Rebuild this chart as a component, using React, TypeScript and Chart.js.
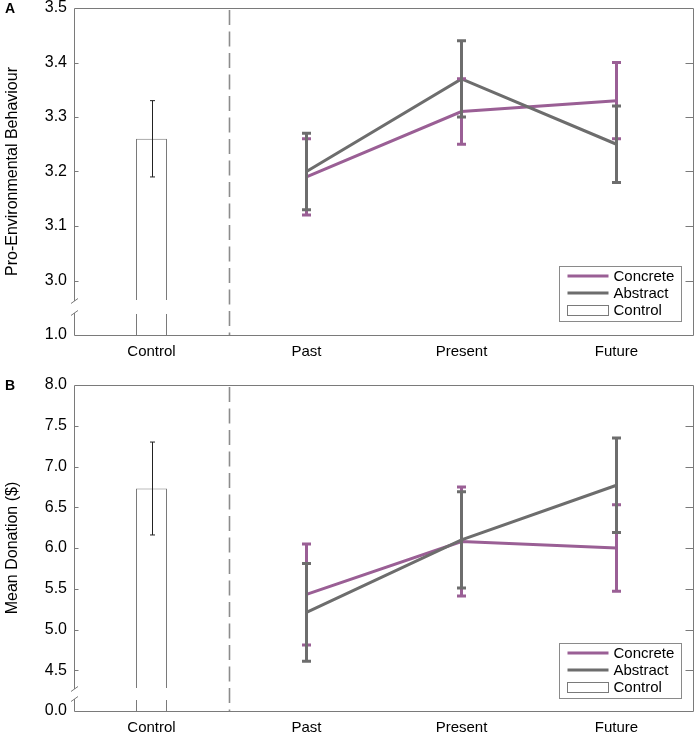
import React, { useEffect, useRef } from 'react';
import { Chart, registerables } from 'chart.js';

Chart.register(...registerables);

// ---------- data ----------
const categories = ['Control', 'Past', 'Present', 'Future'];
const legendLabels = ['Concrete', 'Abstract', 'Control'];

// Panel A: Pro-Environmental Behaviour
const aControlMean = [3.26];
const aControlErr = [0.07];
const aConcreteMean = [3.19, 3.31, 3.33];
const aConcreteErr = [0.07, 0.06, 0.07];
const aAbstractMean = [3.2, 3.37, 3.25];
const aAbstractErr = [0.07, 0.07, 0.07];
const aTickValues = [2.9, 3.0, 3.1, 3.2, 3.3, 3.4, 3.5];
const aTickLabels = ['1.0', '3.0', '3.1', '3.2', '3.3', '3.4', '3.5'];
const aBreak = [2.9404, 2.9624];

// Panel B: Mean Donation ($)
const bControlMean = [6.73];
const bControlErr = [0.57];
const bConcreteMean = [5.43, 6.08, 6.0];
const bConcreteErr = [0.62, 0.67, 0.53];
const bAbstractMean = [5.21, 6.1, 6.77];
const bAbstractErr = [0.6, 0.59, 0.58];
const bTickValues = [4.0, 4.5, 5.0, 5.5, 6.0, 6.5, 7.0, 7.5, 8.0];
const bTickLabels = ['0.0', '4.5', '5.0', '5.5', '6.0', '6.5', '7.0', '7.5', '8.0'];
const bBreak = [4.147, 4.27];

// ---------- styles ----------
const PURPLE = '#9a5f95';
const GRAY = '#6d6d6d';
const FRAME = '#7a7a7a';
const FONT = '"Liberation Sans", Arial, Helvetica, sans-serif';
const W = 697;
const H = 368;

type PanelCfg = {
  letter: string;
  title: string;
  padTop: number;
  xHeight: number;
  tickValues: number[];
  tickLabels: string[];
  brk: number[];
  controlMean: number[];
  controlErr: number[];
  concreteMean: number[];
  concreteErr: number[];
  abstractMean: number[];
  abstractErr: number[];
};

function drawErr(ctx: CanvasRenderingContext2D, px: number, yTop: number, yBot: number, color: string, lw: number, cap: number) {
  ctx.strokeStyle = color;
  ctx.lineWidth = lw;
  ctx.beginPath();
  ctx.moveTo(px, yTop);
  ctx.lineTo(px, yBot);
  ctx.moveTo(px - cap, yTop);
  ctx.lineTo(px + cap, yTop);
  ctx.moveTo(px - cap, yBot);
  ctx.lineTo(px + cap, yBot);
  ctx.stroke();
}

function makeChart(canvas: HTMLCanvasElement, cfg: PanelCfg) {
  const yMin = cfg.tickValues[0];
  const yMax = cfg.tickValues[cfg.tickValues.length - 1];

  const panelPlugin = {
    id: 'panel' + cfg.letter,
    beforeDatasetsDraw(chart: any) {
      const { ctx, chartArea: ca, scales } = chart;
      const x = scales.x;
      const xd = Math.round((x.getPixelForValue(0) + x.getPixelForValue(1)) / 2) + 0.5;
      ctx.save();
      ctx.strokeStyle = '#8c8c8c';
      ctx.lineWidth = 1.6;
      ctx.setLineDash([15, 6.5]);
      ctx.beginPath();
      ctx.moveTo(xd, ca.top + 2);
      ctx.lineTo(xd, ca.bottom);
      ctx.stroke();
      ctx.restore();
    },
    afterDatasetsDraw(chart: any) {
      const { ctx, chartArea: ca, scales } = chart;
      const x = scales.x;
      const y = scales.y;
      ctx.save();
      ctx.lineCap = 'butt';
      // control error bar
      const cx = x.getPixelForValue(0);
      drawErr(ctx, Math.round(cx) + 0.5,
        y.getPixelForValue(cfg.controlMean[0] + cfg.controlErr[0]),
        y.getPixelForValue(cfg.controlMean[0] - cfg.controlErr[0]), '#222', 1, 2.5);
      // concrete then abstract
      for (let i = 0; i < cfg.concreteMean.length; i++) {
        const px = x.getPixelForValue(i + 1);
        drawErr(ctx, px, y.getPixelForValue(cfg.concreteMean[i] + cfg.concreteErr[i]),
          y.getPixelForValue(cfg.concreteMean[i] - cfg.concreteErr[i]), PURPLE, 3, 4.5);
      }
      for (let i = 0; i < cfg.abstractMean.length; i++) {
        const px = x.getPixelForValue(i + 1);
        drawErr(ctx, px, y.getPixelForValue(cfg.abstractMean[i] + cfg.abstractErr[i]),
          y.getPixelForValue(cfg.abstractMean[i] - cfg.abstractErr[i]), GRAY, 3, 4.5);
      }

      // frame
      const L = Math.round(ca.left) + 0.5;
      const R = Math.round(ca.right) - 0.5;
      const T = Math.round(ca.top) + 0.5;
      const B = Math.round(ca.bottom) + 0.5;
      const gTop = y.getPixelForValue(cfg.brk[1]);
      const gBot = y.getPixelForValue(cfg.brk[0]);
      ctx.strokeStyle = FRAME;
      ctx.lineWidth = 1;
      ctx.beginPath();
      ctx.moveTo(L, T);
      ctx.lineTo(R, T);
      ctx.lineTo(R, B);
      ctx.lineTo(L, B);
      ctx.lineTo(L, gBot);
      ctx.moveTo(L, gTop);
      ctx.lineTo(L, T);
      // inner ticks
      for (let k = 1; k < cfg.tickValues.length - 1; k++) {
        const ty = Math.round(y.getPixelForValue(cfg.tickValues[k])) + 0.5;
        ctx.moveTo(L, ty);
        ctx.lineTo(L + 4, ty);
        ctx.moveTo(R, ty);
        ctx.lineTo(R - 8, ty);
      }
      ctx.stroke();
      // break slashes
      ctx.beginPath();
      ctx.moveTo(L - 3.5, gTop + 2.5);
      ctx.lineTo(L + 3.5, gTop - 2.5);
      ctx.moveTo(L - 3.5, gBot + 2.5);
      ctx.lineTo(L + 3.5, gBot - 2.5);
      ctx.stroke();
      // gap in control bar
      const meta = chart.getDatasetMeta(0);
      const bar = meta.data[0];
      if (bar) {
        const half = bar.width / 2;
        ctx.fillStyle = '#ffffff';
        ctx.fillRect(bar.x - half - 2, gTop - 1, half * 2 + 4, gBot - gTop + 2);
      }

      // legend
      const bx = Math.round(ca.right) - 135 + 0.5;
      const by = Math.round(ca.top) + 258 + 0.5;
      const bw = 122;
      const bh = 55;
      ctx.fillStyle = '#ffffff';
      ctx.fillRect(bx, by, bw, bh);
      ctx.strokeStyle = '#8a8a8a';
      ctx.lineWidth = 1;
      ctx.strokeRect(bx, by, bw, bh);
      const rows = [9.5, 26.5, 43.5];
      const colors = [PURPLE, GRAY];
      for (let r = 0; r < 2; r++) {
        ctx.strokeStyle = colors[r];
        ctx.lineWidth = 3;
        ctx.beginPath();
        ctx.moveTo(bx + 8, by + rows[r]);
        ctx.lineTo(bx + 49, by + rows[r]);
        ctx.stroke();
      }
      ctx.strokeStyle = FRAME;
      ctx.lineWidth = 1;
      ctx.strokeRect(bx + 8, Math.round(by + rows[2] - 5) + 0.5, 41, 10);
      ctx.fillStyle = '#000';
      ctx.font = '15px ' + FONT;
      ctx.textAlign = 'left';
      ctx.textBaseline = 'middle';
      for (let r = 0; r < 3; r++) {
        ctx.fillText(legendLabels[r], bx + 54, by + rows[r] + 1);
      }

      // panel letter
      ctx.font = 'bold 14px ' + FONT;
      ctx.fillText(cfg.letter, 5, ca.top + 1.5);
      ctx.restore();
    },
  };

  return new Chart(canvas, {
    type: 'bar',
    data: {
      labels: categories,
      datasets: [
        {
          type: 'bar',
          label: 'Control',
          data: [cfg.controlMean[0], null, null, null],
          base: yMin,
          backgroundColor: '#ffffff',
          borderColor: FRAME,
          borderWidth: 1,
          barPercentage: 0.2,
          categoryPercentage: 1,
          grouped: false,
          order: 3,
        } as any,
        {
          type: 'line',
          label: 'Concrete',
          data: [null, ...cfg.concreteMean],
          borderColor: PURPLE,
          borderWidth: 3,
          pointRadius: 0,
          tension: 0,
          order: 2,
        } as any,
        {
          type: 'line',
          label: 'Abstract',
          data: [null, ...cfg.abstractMean],
          borderColor: GRAY,
          borderWidth: 3,
          pointRadius: 0,
          tension: 0,
          order: 1,
        } as any,
      ],
    },
    options: {
      responsive: false,
      animation: false,
      layout: { padding: { top: cfg.padTop, right: 3, left: 0, bottom: 0 } },
      plugins: { legend: { display: false }, tooltip: { enabled: false } },
      scales: {
        x: {
          type: 'category',
          offset: true,
          grid: { display: false, drawTicks: false },
          border: { display: false },
          ticks: { color: '#000', font: { size: 15, family: FONT }, padding: 8, maxRotation: 0, autoSkip: false },
          afterFit: (s: any) => { s.height = cfg.xHeight; s.paddingLeft = 0; s.paddingRight = 0; },
        },
        y: {
          type: 'linear',
          min: yMin,
          max: yMax,
          grid: { display: false, drawTicks: false },
          border: { display: false },
          afterBuildTicks: (s: any) => { s.ticks = cfg.tickValues.map((v) => ({ value: v })); },
          ticks: {
            color: '#000',
            font: { size: 16, family: FONT },
            padding: 7,
            callback: (_v: any, i: number) => cfg.tickLabels[i],
          },
          title: {
            display: true,
            text: cfg.title,
            color: '#000',
            font: { size: 16, family: FONT },
            padding: { top: 3, bottom: 0 },
          },
          afterFit: (s: any) => { s.width = 74; s.paddingTop = 0; s.paddingBottom = 0; },
        },
      },
    },
    plugins: [panelPlugin],
  } as any);
}

const panelA: PanelCfg = {
  letter: 'A',
  title: 'Pro-Environmental Behaviour',
  padTop: 8,
  xHeight: 33,
  tickValues: aTickValues,
  tickLabels: aTickLabels,
  brk: aBreak,
  controlMean: aControlMean,
  controlErr: aControlErr,
  concreteMean: aConcreteMean,
  concreteErr: aConcreteErr,
  abstractMean: aAbstractMean,
  abstractErr: aAbstractErr,
};

const panelB: PanelCfg = {
  letter: 'B',
  title: 'Mean Donation ($)',
  padTop: 17,
  xHeight: 25,
  tickValues: bTickValues,
  tickLabels: bTickLabels,
  brk: bBreak,
  controlMean: bControlMean,
  controlErr: bControlErr,
  concreteMean: bConcreteMean,
  concreteErr: bConcreteErr,
  abstractMean: bAbstractMean,
  abstractErr: bAbstractErr,
};

function Panel({ cfg, top }: { cfg: PanelCfg; top: number }) {
  const ref = useRef<HTMLCanvasElement | null>(null);
  useEffect(() => {
    if (!ref.current) return;
    const chart = makeChart(ref.current, cfg);
    return () => chart.destroy();
  }, [cfg]);
  return (
    <canvas
      ref={ref}
      width={W}
      height={H}
      style={{ position: 'absolute', left: 0, top, width: W, height: H, display: 'block' }}
    />
  );
}

export default function App() {
  return (
    <div style={{ position: 'absolute', left: 0, top: 0, width: W, height: 736, background: '#fff', overflow: 'hidden' }}>
      <Panel cfg={panelA} top={0} />
      <Panel cfg={panelB} top={H} />
    </div>
  );
}
